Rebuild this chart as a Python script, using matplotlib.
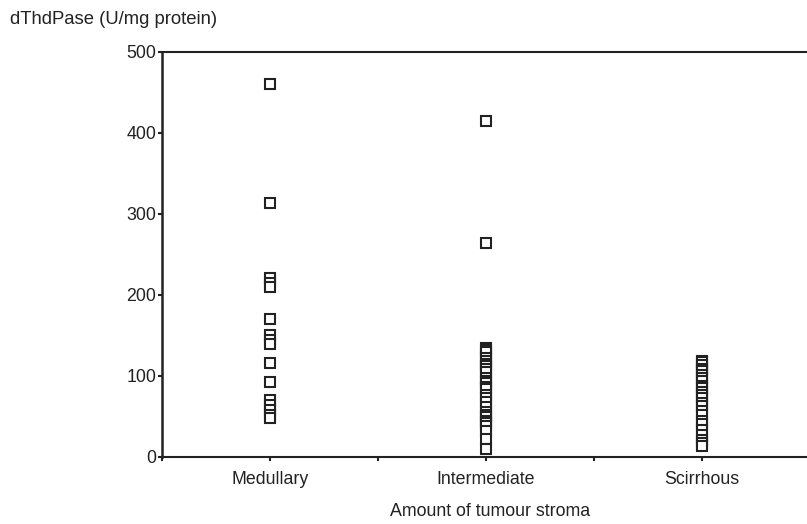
import numpy as np
import matplotlib
matplotlib.use("Agg")
import matplotlib.pyplot as plt

plt.rcParams['font.family'] = ['Liberation Sans', 'DejaVu Sans']

categories = ["Medullary", "Intermediate", "Scirrhous"]
cat_pos = [1, 3, 5]

medullary = [460, 313, 221, 215, 210, 170, 151, 145, 140, 116, 93,
             70, 64, 58, 52, 48]
intermediate = [415, 264, 135, 132, 129, 122, 118, 115, 112, 109, 105,
                98, 94, 91, 87, 84, 77, 73, 68, 62, 56, 52, 49, 45, 42,
                38, 32, 22, 10]
scirrhous = [119, 117, 113, 109, 106, 101, 97, 94, 88, 85, 80, 77, 73,
             67, 63, 57, 52, 45, 41, 33, 27, 21, 17, 14]

groups = [medullary, intermediate, scirrhous]

fig = plt.figure(figsize=(8.07, 5.24), dpi=100)
ax = fig.add_axes([0.2007, 0.1279, 0.7993, 0.7729])

for pos, vals in zip(cat_pos, groups):
    ax.plot([pos] * len(vals), vals, linestyle="none", marker="s",
            markersize=6.8, markerfacecolor="white", markeredgecolor="#222222",
            markeredgewidth=1.5, clip_on=False)

ax.set_xlim(0, 5.97)
ax.set_ylim(0, 500)
ax.set_yticks([0, 100, 200, 300, 400, 500])
ax.set_xticks(range(0, 6))
ax.set_xticklabels(["", categories[0], "", categories[1], "", categories[2]])

ax.tick_params(axis="both", direction="out", length=3, width=1.5,
               labelsize=12.8, colors="#222222")
ax.tick_params(axis="x", pad=7)
ax.tick_params(axis="y", pad=1)

for side in ["left", "bottom", "top"]:
    ax.spines[side].set_color("#222222")
ax.spines["left"].set_linewidth(1.8)
ax.spines["bottom"].set_linewidth(1.5)
ax.spines["top"].set_linewidth(1.5)
ax.spines["right"].set_visible(False)

fig.text(10 / 807, 1 - 19 / 524, "dThdPase (U/mg protein)", fontsize=13.3,
         va="center", ha="left", color="#222222")
fig.text(490 / 807, 1 - 511 / 524, "Amount of tumour stroma", fontsize=12.8,
         va="center", ha="center", color="#222222")

fig.savefig("out.png", dpi=100)
